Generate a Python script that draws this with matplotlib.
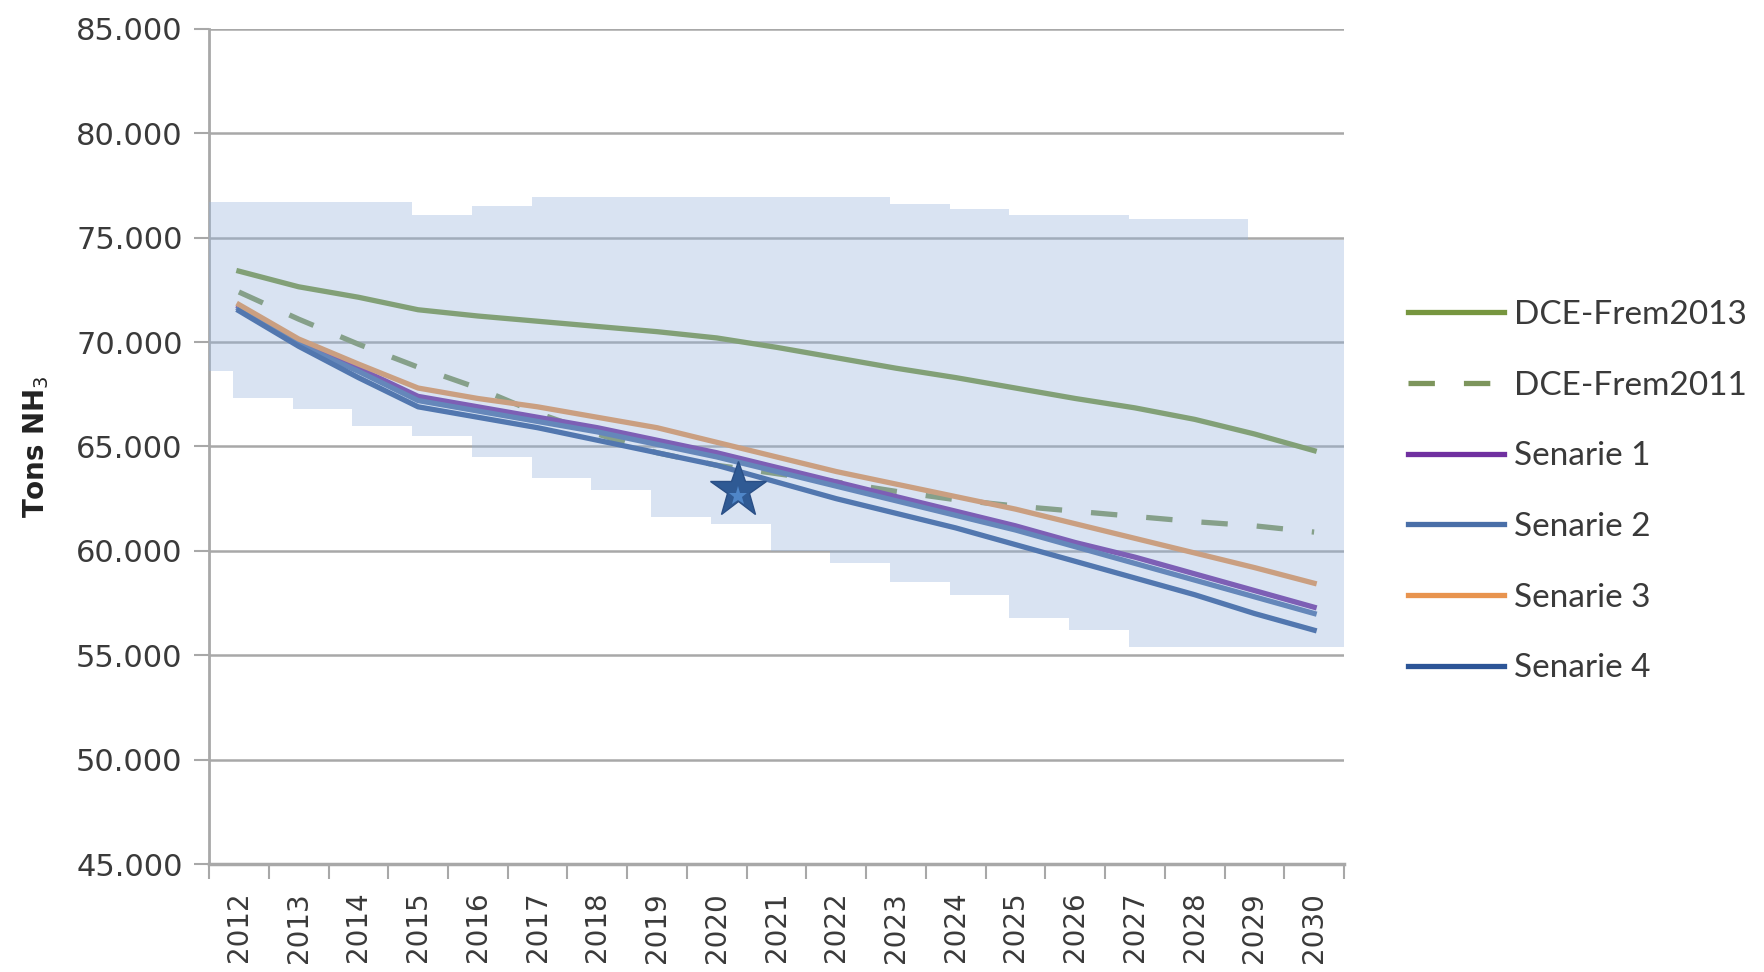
import numpy as np
import matplotlib.pyplot as plt
from matplotlib.ticker import FixedLocator, FuncFormatter

years = ['2012', '2013', '2014', '2015', '2016', '2017', '2018', '2019', '2020', '2021',
         '2022', '2023', '2024', '2025', '2026', '2027', '2028', '2029', '2030']

dce_2013 = [73400, 72650, 72150, 71550, 71250, 71000, 70750, 70500, 70200, 69750,
            69250, 68750, 68300, 67800, 67300, 66850, 66300, 65600, 64800]
dce_2011 = [72400, 71100, 69900, 68800, 67800, 66600, 65600, 64700, 64100, 63700,
            63300, 62850, 62450, 62150, 61900, 61650, 61400, 61200, 60900]
senarie_1 = [71700, 70000, 68750, 67400, 66900, 66400, 65900, 65300, 64700, 64000,
             63300, 62600, 61900, 61200, 60400, 59700, 58900, 58100, 57300]
senarie_2 = [71600, 69900, 68600, 67200, 66700, 66200, 65700, 65100, 64500, 63800,
             63100, 62400, 61700, 61000, 60200, 59400, 58600, 57800, 57000]
senarie_3 = [71800, 70150, 68950, 67800, 67300, 66900, 66400, 65900, 65200, 64500,
             63800, 63200, 62600, 62000, 61300, 60600, 59900, 59200, 58450]
senarie_4 = [71500, 69800, 68300, 66900, 66400, 65900, 65300, 64700, 64100, 63300,
             62500, 61800, 61100, 60300, 59500, 58700, 57900, 57000, 56200]

# uncertainty band, one step per year (plus the bit left of 2012)
band_low_start = 68600
band_low = [67300, 66800, 66000, 65500, 64500, 63500, 62900, 61600, 61300, 60000,
            59400, 58500, 57900, 56800, 56200, 55400, 55400, 55400, 55400]
band_high_start = 76700
band_high = [76700, 76700, 76700, 76100, 76500, 76950, 76950, 76950, 76950, 76950,
             76950, 76600, 76400, 76100, 76100, 75900, 75900, 74900, 74900]

star_year = 8.35
star_value = 62900

series = [
    ('DCE-Frem2013', dce_2013, '#77963f', '-'),
    ('DCE-Frem2011', dce_2011, '#7d955c', '--'),
    ('Senarie 1', senarie_1, '#7030a0', '-'),
    ('Senarie 2', senarie_2, '#4a6fa8', '-'),
    ('Senarie 3', senarie_3, '#e8944f', '-'),
    ('Senarie 4', senarie_4, '#2c5597', '-'),
]

fig = plt.figure(figsize=(17.64, 9.72), dpi=100)
ax = fig.add_axes([0.1185, 0.1111, 0.6434, 0.8591])

x = np.arange(len(years))
for name, vals, col, ls in series:
    if ls == '--':
        ax.plot(x, vals, color=col, lw=3.8, ls=(0, (5, 5.5)), label=name, zorder=3,
                solid_capstyle='butt')
    else:
        ax.plot(x, vals, color=col, lw=3.8, label=name, zorder=3)

shift = -0.1
bx = np.concatenate([[-0.5], x + shift, [18.5]])
blo = np.array([band_low_start] + band_low + [band_low[-1]])
bhi = np.array([band_high_start] + band_high + [band_high[-1]])
ax.fill_between(bx, blo, bhi, step='post', color='#96b4dc', alpha=0.36, lw=0, zorder=4)

ax.plot([star_year], [star_value], marker='*', ms=42, color='#2f5a94',
        markeredgecolor='#2a4f86', zorder=6, ls='none')
ax.plot([star_year], [star_value - 250], marker='*', ms=14, color='#4f86c8',
        markeredgewidth=0, zorder=7, ls='none')

ax.set_xlim(-0.5, 18.5)
ax.set_ylim(45000, 85000)
ax.yaxis.set_major_locator(FixedLocator(np.arange(45000, 85001, 5000)))
ax.yaxis.set_major_formatter(FuncFormatter(lambda v, p: f'{int(v):,}'.replace(',', '.')))
ax.grid(axis='y', color='#a8a8a8', lw=1.8, zorder=1)
ax.set_axisbelow(True)

ax.xaxis.set_major_locator(FixedLocator(np.arange(-0.5, 18.6, 1)))
ax.xaxis.set_major_formatter(FuncFormatter(lambda v, p: ''))
ax.xaxis.set_minor_locator(FixedLocator(x))
ax.set_xticklabels(years, minor=True, rotation=90, fontsize=20, color='#3a3a3a',
                   ha='right', va='center', rotation_mode='anchor')
ax.tick_params(axis='x', which='major', length=11, width=1.5, color='#a8a8a8', direction='out')
ax.tick_params(axis='x', which='minor', length=0, pad=20)
ax.tick_params(axis='y', length=11, width=1.5, color='#a8a8a8', labelsize=22,
               labelcolor='#3a3a3a', pad=8)

for s in ['top', 'right']:
    ax.spines[s].set_visible(False)
ax.spines['left'].set_color('#a8a8a8')
ax.spines['left'].set_linewidth(2)
ax.spines['bottom'].set_color('#a8a8a8')
ax.spines['bottom'].set_linewidth(2.5)

ax.set_ylabel('Tons NH$_3$', fontsize=20, fontweight='bold', color='#222222', labelpad=18)

handles, labels = ax.get_legend_handles_labels()
leg = fig.legend(handles, labels, loc='center left', bbox_to_anchor=(0.798, 0.494),
                 frameon=False, prop={'family': 'Lato', 'size': 24}, handlelength=2.9,
                 handletextpad=0.3, labelspacing=1.22, borderpad=0, borderaxespad=0)
for t in leg.get_texts():
    t.set_color('#3a3a3a')

fig.savefig('out.png', dpi=100)
